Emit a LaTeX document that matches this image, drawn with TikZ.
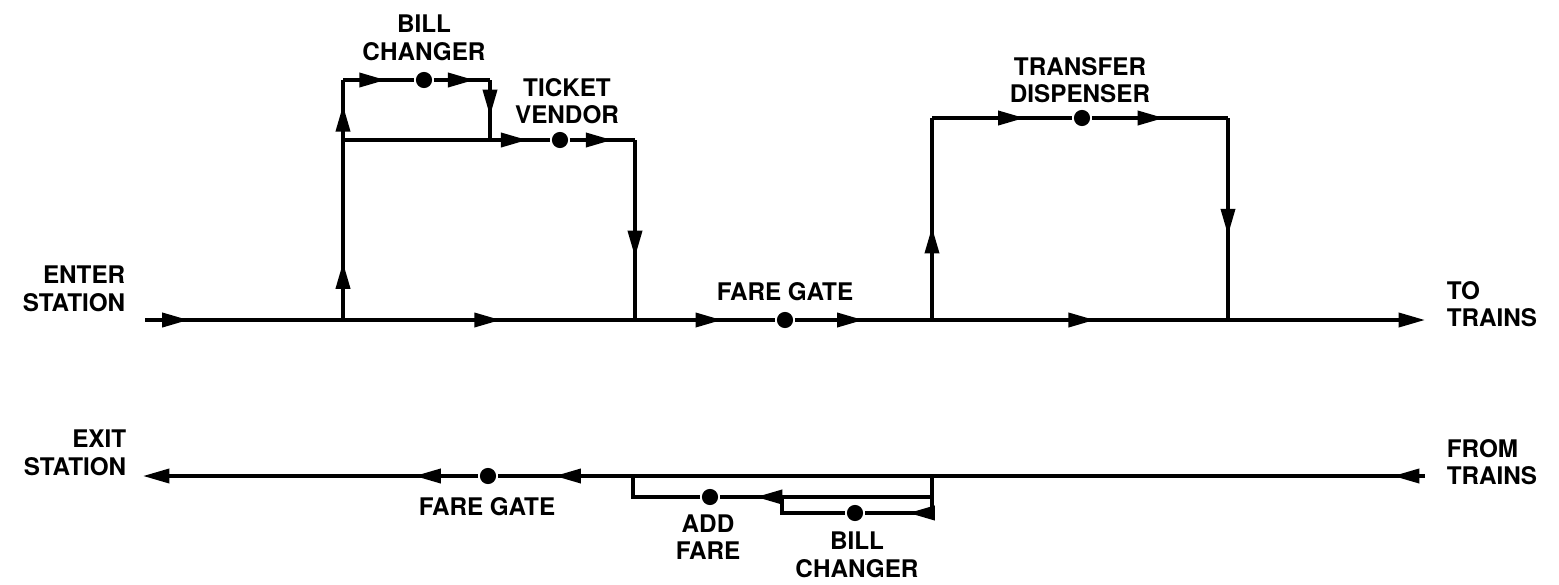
\documentclass[tikz,border=0pt]{standalone}
\usepackage{fontspec}
\setmainfont{TeX Gyre Heros}
\usetikzlibrary{arrows.meta,decorations.markings}

\begin{document}
\begin{tikzpicture}[x=0.01cm,y=-0.01cm,line width=1pt,
  tri/.tip={Triangle[length=7.5pt,width=4pt]},
  fl/.style={postaction={decorate,decoration={markings,mark=at position #1 with {\arrow{tri}}}}},
  stn/.style={circle,fill,inner sep=0pt,minimum size=4.6pt},
  lbl/.style={font=\fontsize{6.9}{7.8}\selectfont\bfseries,inner sep=0pt,align=center}]
\useasboundingbox (0,0) rectangle (1559,584);
% inbound
\coordinate (in) at (145,320);
\coordinate (s1) at (343,320);
\coordinate (s2) at (635,320);
\node[stn] (fg) at (785,320) {};
\coordinate (s3) at (932,320);
\coordinate (s4) at (1228,320);
\coordinate (out) at (1425,320);
\coordinate (bc1) at (343,80);
\node[stn] (bc) at (424,80) {};
\coordinate (bc2) at (490,80);
\coordinate (tv1) at (343,140);
\coordinate (tvj) at (490,140);
\node[stn] (tv) at (560,140) {};
\coordinate (tv2) at (635,140);
\coordinate (td1) at (932,118);
\node[stn] (td) at (1082,118) {};
\coordinate (td2) at (1228,118);
\draw[fl=0.22] (in) -- (s1);
\draw[fl=0.54] (s1) -- (s2);
\draw[fl=0.62] (s2) -- (fg);
\draw[fl=0.5] (fg) -- (s3);
\draw[fl=0.55] (s3) -- (s4);
\draw[-tri] (s4) -- (out);
\draw[fl=0.32] (s1) -- (tv1);
\draw[fl=0.58] (tv1) -- (bc1);
\draw[fl=0.6] (bc1) -- (bc);
\draw[fl=0.72] (bc) -- (bc2);
\draw[fl=0.6] (bc2) -- (tvj);
\draw (tv1) -- (tvj);
\draw[fl=0.62] (tvj) -- (tv);
\draw[fl=0.65] (tv) -- (tv2);
\draw[fl=0.65] (tv2) -- (s2);
\draw[fl=0.46] (s3) -- (td1);
\draw[fl=0.66] (td1) -- (td);
\draw[fl=0.53] (td) -- (td2);
\draw[fl=0.58] (td2) -- (s4);
% outbound
\coordinate (fin) at (1425,476);
\coordinate (b1) at (932,476);
\coordinate (b2) at (633,476);
\node[stn] (fg2) at (488,476) {};
\coordinate (ex) at (143,476);
\coordinate (af1) at (932,497);
\coordinate (af2) at (633,497);
\node[stn] (af) at (710,497) {};
\coordinate (bx1) at (932,513);
\node[stn] (bx) at (855,513) {};
\coordinate (bx2) at (782,513);
\coordinate (bx3) at (782,497);
\draw[fl=0.065] (fin) -- (b1);
\draw (b1) -- (b2);
\draw[fl=0.58] (b2) -- (fg2);
\draw[fl=0.19,-tri] (fg2) -- (ex);
\draw (b1) -- (af1) -- (bx1);
\draw[fl=0.35] (bx1) -- (bx);
\draw (bx) -- (bx2) -- (bx3);
\draw (af1) -- (bx3);
\draw[fl=0.42] (bx3) -- (af);
\draw (af) -- (af2) -- (b2);
% labels
\node[lbl] (lbc) at (424,38) {BILL\\CHANGER};
\node[lbl] (ltv) at (567,101) {TICKET\\VENDOR};
\node[lbl] (ltd) at (1080,80) {TRANSFER\\DISPENSER};
\node[lbl,anchor=east,align=right] (len) at (127,289) {ENTER\\STATION};
\node[lbl] (lfg) at (785,292) {FARE GATE};
\node[lbl,anchor=west,align=left] (ltt) at (1445,304) {TO\\TRAINS};
\node[lbl,anchor=east,align=right] (lex) at (128,453) {EXIT\\STATION};
\node[lbl,anchor=west,align=left] (lft) at (1445,462) {FROM\\TRAINS};
\node[lbl] (lfg2) at (487,507) {FARE GATE};
\node[lbl] (laf) at (708,537) {ADD\\FARE};
\node[lbl] (lbx) at (857,555) {BILL\\CHANGER};
\end{tikzpicture}
\end{document}
